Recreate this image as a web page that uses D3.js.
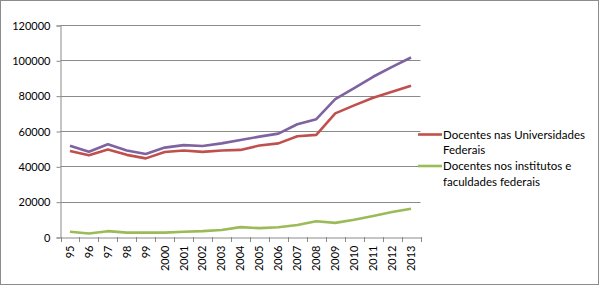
<!DOCTYPE html>
<html><head><meta charset="utf-8">
<script src="https://cdn.jsdelivr.net/npm/d3@7"></script>
<style>body{margin:0;background:#fff;} svg{display:block;} text{font-family:Lato,"Open Sans",sans-serif;fill:#000;}</style>
</head><body><svg id="c" width="600" height="286"></svg>
<script>
const categories = ["95","96","97","98","99","2000","2001","2002","2003","2004","2005","2006","2007","2008","2009","2010","2011","2012","2013"];
const total = [51700,48300,52500,49000,47000,50600,52000,51500,53000,54900,56800,58500,63800,66700,78000,84300,90700,96300,101600];
const universidades = [48700,46300,49500,46500,44500,48100,49000,48200,49000,49300,51800,53000,57000,57800,70000,74500,78800,82200,85600];
const institutos = [3000,2000,3300,2500,2500,2500,3000,3300,4000,5600,5000,5500,6800,8900,8000,9800,11900,14100,16000];
const yTicks = [0,20000,40000,60000,80000,100000,120000];
const legendLabels = [["Docentes nas Universidades","Federais"],["Docentes nos institutos e","faculdades federais"]];

const svg = d3.select("#c");
svg.append("rect").attr("x",0.5).attr("y",0.5).attr("width",598).attr("height",284).attr("fill","#fff").attr("stroke","#8c8c8c");

const L=60.5, R=420.5, T=25, B=237;
const x = d3.scaleBand().domain(categories).range([L,R]);
const y = d3.scaleLinear().domain([0,120000]).range([B,T]);

// gridlines
svg.append("g").selectAll("line").data(yTicks.slice(1)).join("line")
  .attr("x1",L).attr("x2",R).attr("y1",d=>Math.round(y(d))+0.5).attr("y2",d=>Math.round(y(d))+0.5)
  .attr("stroke","#8a8a8a").attr("stroke-width",1);

// y axis
const ya = svg.append("g").attr("transform",`translate(${L},0.5)`).call(d3.axisLeft(y).tickValues(yTicks).tickSize(4).tickPadding(6).tickFormat(d=>d));
ya.select(".domain").attr("stroke","#8a8a8a");
ya.selectAll(".tick line").attr("stroke","#8a8a8a");
ya.selectAll("text").style("font-size","11px").style("font-family","Lato");

// x axis
const xa = svg.append("g").attr("transform",`translate(0,${B+0.5})`).call(d3.axisBottom(x).tickSize(0).tickPadding(0));
xa.select(".domain").attr("stroke","#8a8a8a");
xa.selectAll(".tick text").attr("transform","rotate(-90)").attr("text-anchor","end").attr("x",-8).attr("y",0).attr("dy","0.35em").style("font-size","11px").style("font-family","Lato");
svg.append("g").selectAll("line").data(categories.concat(["__end"])).join("line")
  .attr("x1",(d,i)=>Math.round(L + i*x.step())+0.5).attr("x2",(d,i)=>Math.round(L + i*x.step())+0.5)
  .attr("y1",B).attr("y2",B+5).attr("stroke","#8a8a8a");

const line = d3.line().x((d,i)=>x(categories[i])+x.bandwidth()/2).y(d=>y(d));
const series = [[total,"#7f63a1"],[universidades,"#c0504d"],[institutos,"#9bbb59"]];
series.forEach(([vals,col])=>{
  svg.append("path").datum(vals).attr("d",line).attr("fill","none").attr("stroke",col).attr("stroke-width",2.6).attr("stroke-linejoin","round");
});

// legend
const leg = svg.append("g");
const legY = [134.5,166];
[["#c0504d",0],["#9bbb59",1]].forEach(([col,i])=>{
  leg.append("line").attr("x1",418).attr("x2",442).attr("y1",legY[i]).attr("y2",legY[i]).attr("stroke",col).attr("stroke-width",2.6);
  legendLabels[i].forEach((t,j)=>{
    leg.append("text").attr("x",443).attr("y",legY[i]+j*15.5).attr("dy","0.35em").style("font-size","11.5px").text(t);
  });
});
</script></body></html>
